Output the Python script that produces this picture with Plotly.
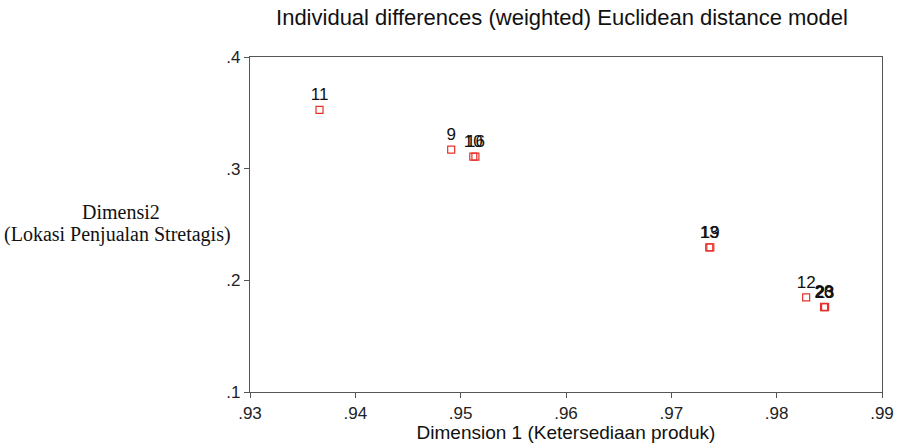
import plotly.graph_objects as go

# Stimulus coordinates from the weighted Euclidean (INDSCAL) solution
labels = ["11", "9", "10", "16", "13", "19", "12", "20", "23", "28"]
dim1 = [0.9366, 0.9491, 0.9512, 0.9514, 0.9736, 0.9737, 0.9828, 0.9845, 0.9846, 0.9845]
dim2 = [0.3527, 0.3170, 0.3107, 0.3107, 0.2295, 0.2295, 0.1848, 0.1760, 0.1760, 0.1762]

x_ticks = [0.93, 0.94, 0.95, 0.96, 0.97, 0.98, 0.99]
x_tick_text = [".93", ".94", ".95", ".96", ".97", ".98", ".99"]
y_ticks = [0.1, 0.2, 0.3, 0.4]
y_tick_text = [".1", ".2", ".3", ".4"]

W, H = 897, 445
ML, MR, MT, MB = 250, 15, 57, 53
SANS = "Liberation Sans, Arial"
SERIF = "Liberation Serif, Times New Roman"

fig = go.Figure()
fig.add_trace(go.Scatter(
    x=dim1, y=dim2, mode="markers+text",
    text=labels, textposition="top center",
    textfont=dict(family=SANS, size=17, color="#111111"),
    marker=dict(symbol="square-open", size=7, color="#e8302a", line=dict(width=1.2)),
    showlegend=False, cliponaxis=False,
))

axis_common = dict(
    showgrid=False, zeroline=False, showline=True, linecolor="#555555", linewidth=1.2,
    mirror=True, ticks="outside", ticklen=5, tickcolor="#555555", automargin=False,
    tickfont=dict(family=SANS, size=17, color="#222222"),
)

fig.update_xaxes(range=[0.93, 0.99], tickvals=x_ticks, ticktext=x_tick_text,
                 title=dict(text="Dimension 1 (Ketersediaan produk)", standoff=0,
                            font=dict(family=SANS, size=19, color="#111111")),
                 **axis_common)
fig.update_yaxes(range=[0.1, 0.4], tickvals=y_ticks, ticktext=y_tick_text, **axis_common)


def px_to_paper(px, py):
    return (px - ML) / (W - ML - MR), 1 - (py - MT) / (H - MT - MB)


# two-line caption for the vertical dimension, set horizontally left of the plot
for text, cx, cy in [("Dimensi2", 121, 212), ("(Lokasi Penjualan Stretagis)", 117, 234)]:
    ax, ay = px_to_paper(cx, cy)
    fig.add_annotation(x=ax, y=ay, xref="paper", yref="paper", showarrow=False,
                       text=text, xanchor="center", yanchor="middle",
                       font=dict(family=SERIF, size=20, color="#111111"))

fig.update_layout(
    width=W, height=H,
    margin=dict(l=ML, r=MR, t=MT, b=MB, autoexpand=False),
    paper_bgcolor="white", plot_bgcolor="white",
    title=dict(text="Individual differences (weighted) Euclidean distance model",
               x=562 / W, xanchor="center", y=1 - 17 / H, yanchor="middle",
               font=dict(family=SANS, size=22, color="#111111")),
)

fig.write_html("out.html")
